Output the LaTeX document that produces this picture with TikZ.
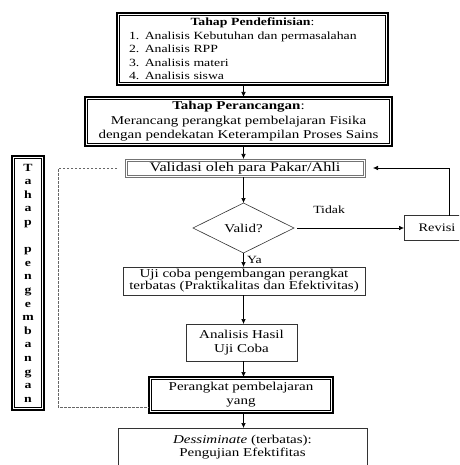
\documentclass[tikz,border=0pt]{standalone}
\usepackage{fontspec}
\setmainfont{Liberation Serif}[FakeStretch=1.25]
\usetikzlibrary{shapes.geometric,arrows.meta,positioning,calc}
\newcommand{\fsz}[2]{\fontsize{#1}{#2}\selectfont}

\begin{document}
\begin{tikzpicture}[x=1pt, y=-1pt,
  box/.style={rectangle, draw=black!80, line width=0.6pt, align=center, inner sep=0pt, outer sep=0pt},
  dbox/.style={box, draw=black, line width=1.2pt},
  gbox/.style={box, draw=black!55, line width=0.9pt},
  arrow/.style={-{Latex[length=5pt,width=4.5pt]}, line width=0.6pt},
  dashline/.style={draw=black!60, line width=0.6pt, dash pattern=on 2.5pt off 1.5pt}
]
\clip (0,0) rectangle (459,465);
\coordinate (axis) at (243.5,0);
\coordinate (rail) at (58,0);
\node[dbox, minimum width=271pt, minimum height=72pt, text width=247pt, align=left, font=\fsz{11}{13.5}] (define) at (252.5,49)
  {{\centering\textbf{Tahap Pendefinisian}:\par}1. Analisis Kebutuhan dan permasalahan\\2. Analisis RPP\\3. Analisis materi\\4. Analisis siswa};
\node[dbox, minimum width=307pt, minimum height=49pt, font=\fsz{12}{14.5}, below=12pt of define, xshift=-14pt] (design)
  {\textbf{Tahap Perancangan}:\\Merancang perangkat pembelajaran Fisika\\dengan pendekatan Keterampilan Proses Sains};
\node[gbox, minimum width=240pt, minimum height=18pt, font=\fsz{13}{15}, below=13pt of design, xshift=6.5pt] (validate) {Validasi oleh para Pakar/Ahli};
\node[diamond, draw=black!80, line width=0.6pt, aspect=2, minimum width=101pt, minimum height=50pt, inner sep=0pt, outer sep=0pt, font=\fsz{12}{14}, below=26pt of validate, xshift=-1.5pt] (valid) {Valid?};
\node[box, minimum width=66pt, minimum height=25pt, font=\fsz{11.5}{14}, right=110pt of valid] (revisi) {Revisi};
\node[box, minimum width=242pt, minimum height=28pt, font=\fsz{12}{12}, below=14pt of valid, xshift=0.5pt] (test)
  {Uji coba pengembangan perangkat\\terbatas (Praktikalitas dan Efektivitas)};
\node[box, minimum width=111pt, minimum height=37pt, font=\fsz{12}{14}, below=29pt of test, xshift=-2.5pt] (analyse) {Analisis Hasil\\Uji Coba};
\node[dbox, minimum width=184pt, minimum height=36pt, font=\fsz{12}{14}, below=16pt of analyse, xshift=-0.5pt] (product) {Perangkat pembelajaran\\yang};
\node[box, minimum width=249pt, minimum height=37.5pt, font=\fsz{12}{13}, below=15pt of product, xshift=1.5pt] (spread)
  {\textit{Dessiminate} (terbatas):\\Pengujian Efektifitas};
\node[dbox, minimum width=32pt, minimum height=254pt, font=\fsz{11}{13.6}\bfseries] (phase) at (28,283)
  {T\\a\\h\\a\\p\\\mbox{}\\p\\e\\n\\g\\e\\m\\b\\a\\n\\g\\a\\n};
% inner lines of the double frames
\foreach \n in {define,design,product,phase}
  \draw[line width=0.5pt] ([shift={(2.5pt,-2.5pt)}]\n.north west) rectangle ([shift={(-2.5pt,2.5pt)}]\n.south east);
\draw[black!55, line width=0.4pt] ([shift={(1.8pt,-1.8pt)}]validate.north west) rectangle ([shift={(-1.8pt,1.8pt)}]validate.south east);
\coordinate (dashend) at ([yshift=-12pt]product.west);
% main flow
\draw[arrow] (define.south -| axis) -- (design.north -| axis);
\draw[arrow] (design.south -| axis) -- (validate.north -| axis);
\draw[arrow] (validate.south -| axis) -- (valid.north);
\draw[arrow] (valid.south) -- node[right, font=\fsz{11}{13}] (yes) {Ya} (test.north -| valid.south);
\draw[arrow] ([xshift=3pt]valid.east) -- node[above=11pt, pos=0.3, font=\fsz{11}{13}] (no) {Tidak} (revisi.west |- valid.east);
\draw[arrow] ([xshift=12pt]revisi.north) |- ([xshift=8pt]validate.east);
\draw[arrow] (test.south -| axis) -- (analyse.north -| axis);
\draw[arrow] (analyse.south -| axis) -- (product.north -| axis);
\draw[arrow] (product.south -| axis) -- (spread.north -| axis);
% development loop
\draw[dashline] ([xshift=-8pt]validate.west) -| (rail |- dashend) -- (dashend);
\end{tikzpicture}
\end{document}
